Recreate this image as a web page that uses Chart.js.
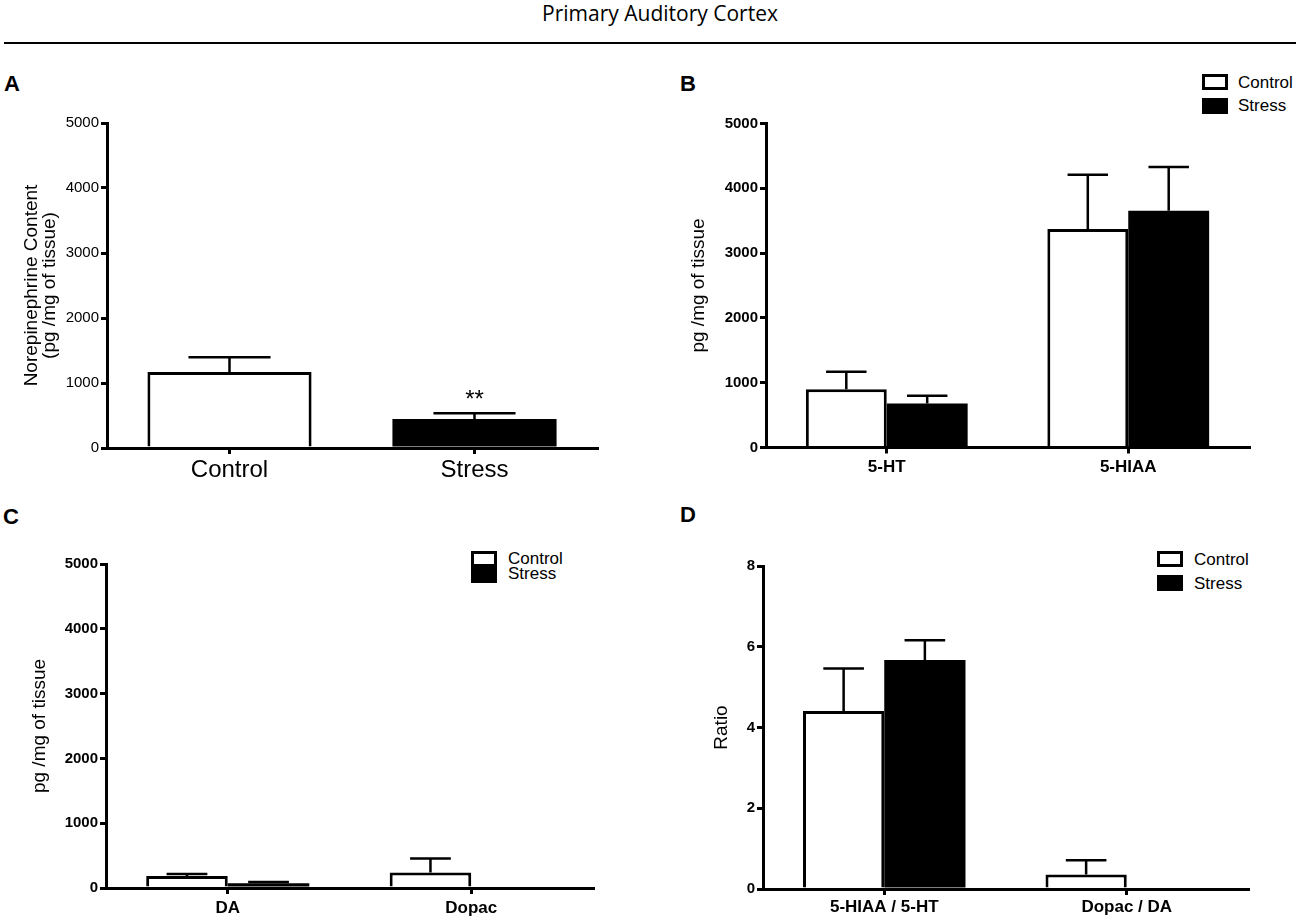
<!DOCTYPE html>
<html>
<head>
<meta charset="utf-8">
<title>Primary Auditory Cortex</title>
<script src="https://cdn.jsdelivr.net/npm/chart.js@4.4.1/dist/chart.umd.min.js"></script>
<style>
    body { margin: 0; background: #fff; width: 1300px; height: 923px; position: relative; overflow: hidden;
           font-family: "Liberation Sans", Arial, sans-serif; color: #000; }
    canvas { position: absolute; }
    .abs { position: absolute; white-space: nowrap; }
    .title { font-family: "Open Sans", sans-serif; font-size: 21px; line-height: 21px; left: 660px; top: 3px;
             transform: translateX(-50%); }
    .rule { left: 4px; top: 42px; width: 1292px; height: 2px; background: #000; }
    .letter { font-weight: bold; font-size: 22px; line-height: 22px; }
    .box { box-sizing: border-box; width: 26px; height: 16px; border: 3px solid #000; background: #fff; }
    .box.filled { background: #000; }
    .leg { font-size: 17px; line-height: 17px; }
</style>
</head>
<body>
<div class="abs title">Primary Auditory Cortex</div>
<div class="abs rule"></div>

<div class="abs letter" style="left:4px;top:73px">A</div>
<div class="abs letter" style="left:680px;top:73px">B</div>
<div class="abs letter" style="left:3px;top:506px">C</div>
<div class="abs letter" style="left:680px;top:504px">D</div>

<!-- legends -->
<div class="abs box" style="left:1202px;top:74px"></div>
<div class="abs leg" style="left:1238px;top:74px">Control</div>
<div class="abs box filled" style="left:1202px;top:98px"></div>
<div class="abs leg" style="left:1238px;top:97px">Stress</div>

<div class="abs box" style="left:471px;top:551px"></div>
<div class="abs leg" style="left:508px;top:550px">Control</div>
<div class="abs box filled" style="left:471px;top:567px"></div>
<div class="abs leg" style="left:508px;top:565px">Stress</div>

<div class="abs box" style="left:1157px;top:551px"></div>
<div class="abs leg" style="left:1194px;top:551px">Control</div>
<div class="abs box filled" style="left:1157px;top:575px"></div>
<div class="abs leg" style="left:1194px;top:575px">Stress</div>

<canvas id="chartA" width="640" height="440" style="left:0;top:60px"></canvas>
<canvas id="chartB" width="660" height="440" style="left:640px;top:60px"></canvas>
<canvas id="chartC" width="640" height="423" style="left:0;top:500px"></canvas>
<canvas id="chartD" width="660" height="423" style="left:640px;top:500px"></canvas>

<script>
// Panel A - norepinephrine
const groupsA = ['Control', 'Stress'];
const valuesA = [1170, 448];
const semA = [225, 87];
const sigA = ['', '**'];

// Panel B - serotonin
const groupsB = ['5-HT', '5-HIAA'];
const controlB = [900, 3370];
const controlSemB = [268, 840];
const stressB = [680, 3655];
const stressSemB = [118, 675];

// Panel C - dopamine
const groupsC = ['DA', 'Dopac'];
const controlC = [185, 238];
const controlSemC = [30, 216];
const stressC = [75, 0];
const stressSemC = [18, 0];

// Panel D - turnover ratios
const groupsD = ['5-HIAA / 5-HT', 'Dopac / DA'];
const controlD = [4.41, 0.36];
const controlSemD = [1.05, 0.35];
const stressD = [5.67, 0];
const stressSemD = [0.49, 0];

const ticksContent = [0, 1000, 2000, 3000, 4000, 5000];
const ticksRatio = [0, 2, 4, 6, 8];

Chart.defaults.font.family = '"Liberation Sans", Arial, sans-serif';
Chart.defaults.color = '#000';

// upward SEM whiskers + significance marks
const errorBars = {
    id: 'errorBars',
    afterDatasetsDraw(chart) {
        const { ctx } = chart;
        const yScale = chart.scales.y;
        ctx.save();
        ctx.strokeStyle = '#000';
        ctx.fillStyle = '#000';
        ctx.lineWidth = 2.5;
        chart.data.datasets.forEach((ds, i) => {
            chart.getDatasetMeta(i).data.forEach((bar, j) => {
                const err = ds.errors ? ds.errors[j] : 0;
                const top = yScale.getPixelForValue(ds.data[j] + (err || 0));
                if (err) {
                    const half = bar.width / 4;
                    ctx.beginPath();
                    ctx.moveTo(bar.x, bar.y);
                    ctx.lineTo(bar.x, top);
                    ctx.moveTo(bar.x - half, top);
                    ctx.lineTo(bar.x + half, top);
                    ctx.stroke();
                }
                if (ds.marks && ds.marks[j]) {
                    ctx.font = '24px "Liberation Sans", Arial, sans-serif';
                    ctx.textAlign = 'center';
                    ctx.textBaseline = 'alphabetic';
                    ctx.fillText(ds.marks[j], bar.x, top - 6);
                }
            });
        });
        ctx.restore();
    }
};

function makePanel(id, p) {
    return new Chart(document.getElementById(id), {
        type: 'bar',
        data: { labels: p.labels, datasets: p.datasets },
        options: {
            responsive: false,
            animation: false,
            layout: { padding: { left: 0, right: p.padRight, top: p.padTop, bottom: 0 } },
            datasets: { bar: { categoryPercentage: 0.67, barPercentage: 1.0, borderColor: '#000' } },
            plugins: { legend: { display: false }, tooltip: { enabled: false } },
            scales: {
                x: {
                    offset: true,
                    grid: { offset: false, drawOnChartArea: false, tickLength: 6, lineWidth: 3, color: '#000' },
                    border: { display: true, width: 3, color: '#000' },
                    ticks: { padding: p.xPad, maxRotation: 0, font: p.xFont },
                    afterFit: s => { s.height = p.xh; }
                },
                y: {
                    min: p.ticks[0],
                    max: p.ticks[p.ticks.length - 1],
                    afterBuildTicks: s => { s.ticks = p.ticks.map(v => ({ value: v })); },
                    grid: { drawOnChartArea: false, tickLength: 6, lineWidth: 3, color: '#000' },
                    border: { display: true, width: 3, color: '#000' },
                    ticks: { padding: 2, font: p.yFont, callback: v => String(v) },
                    title: { display: true, text: p.yTitle, font: { size: 19, lineHeight: p.titleLine },
                             padding: { top: p.titlePad, bottom: 0 } },
                    afterFit: s => { s.width = p.yw; }
                }
            }
        },
        plugins: [errorBars]
    });
}

const boldTick = { size: 15, weight: 'bold' };
const boldCat = { size: 17, weight: 'bold' };

function pair(control, controlSem, stress, stressSem) {
    return [
        { label: 'Control', data: control, errors: controlSem, backgroundColor: '#fff', borderWidth: 3 },
        { label: 'Stress', data: stress, errors: stressSem, backgroundColor: '#000', borderWidth: 0 }
    ];
}

makePanel('chartA', {
    labels: groupsA,
    datasets: [{ label: 'Norepinephrine', data: valuesA, errors: semA, marks: sigA,
                 backgroundColor: ['#fff', '#000'], borderWidth: [3, 0] }],
    ticks: ticksContent, yw: 107, xh: 52, padTop: 63, padRight: 43, xPad: 2,
    xFont: { size: 24 }, yFont: { size: 15 },
    yTitle: ['Norepinephrine Content', '(pg /mg of tissue)'], titleLine: 0.95, titlePad: 23
});

makePanel('chartB', {
    labels: groupsB,
    datasets: pair(controlB, controlSemB, stressB, stressSemB),
    ticks: ticksContent, yw: 126, xh: 52.5, padTop: 63.5, padRight: 51, xPad: 4,
    xFont: boldCat, yFont: boldTick,
    yTitle: 'pg /mg of tissue', titleLine: 1.2, titlePad: 47.6
});

makePanel('chartC', {
    labels: groupsC,
    datasets: pair(controlC, controlSemC, stressC, stressSemC),
    ticks: ticksContent, yw: 106, xh: 35, padTop: 64, padRight: 47, xPad: 4,
    xFont: boldCat, yFont: boldTick,
    yTitle: 'pg /mg of tissue', titleLine: 1.2, titlePad: 28.6
});

makePanel('chartD', {
    labels: groupsD,
    datasets: pair(controlD, controlSemD, stressD, stressSemD),
    ticks: ticksRatio, yw: 123, xh: 34, padTop: 66, padRight: 52, xPad: 2,
    xFont: boldCat, yFont: boldTick,
    yTitle: 'Ratio', titleLine: 1.2, titlePad: 70.6
});
</script>
</body>
</html>
